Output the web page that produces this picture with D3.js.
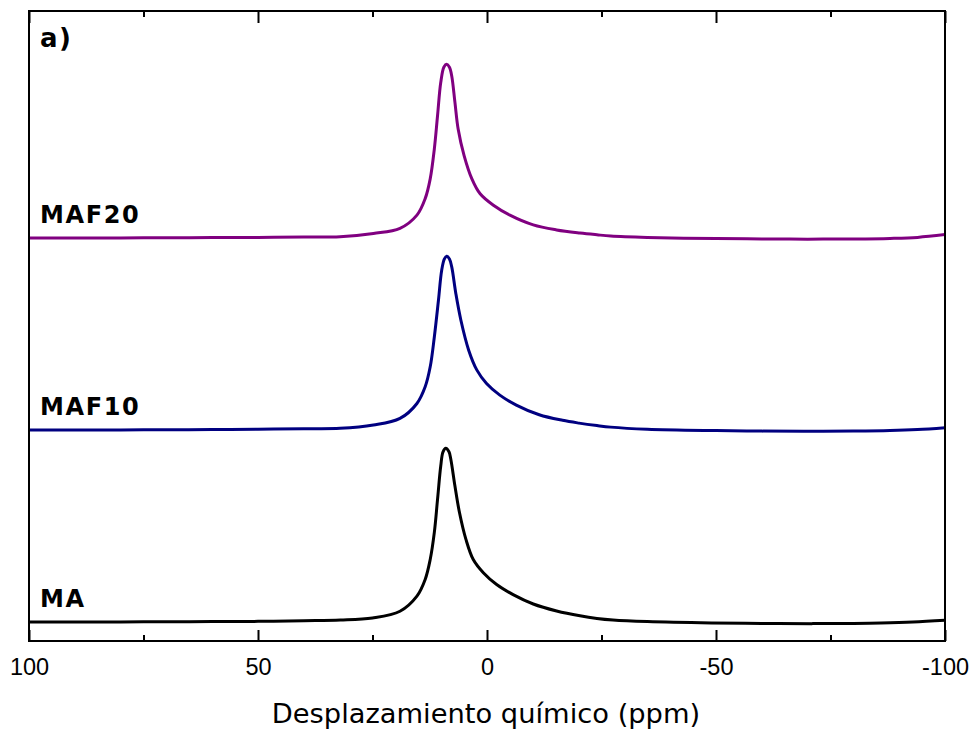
<!DOCTYPE html>
<html>
<head>
<meta charset="utf-8">
<script src="https://cdn.jsdelivr.net/npm/d3@7/dist/d3.min.js"></script>
<style>
  html, body { margin: 0; padding: 0; background: #fff; }
  svg { display: block; }
</style>
</head>
<body>
<script>
// ---------- DATA ----------
const seriesNames = ["MA", "MAF10", "MAF20"];
const seriesColors = ["#000000", "#000080", "#800080"];
const seriesOffsets = [0, 1.105, 2.21];

const maPpm = [100, 90, 80, 70, 60, 50, 40, 32, 25, 19, 15.3, 13.5, 12.4, 11.5, 10.8, 10.1, 9.6, 9.0, 8.3, 7.9, 7.0, 6.0, 4.6, 3.0, 0.8, -2.1, -5.7, -10.1, -15.2, -20.3, -24, -27.5, -35, -49, -60, -71, -80, -86, -93, -100];
const maInt = [0, 0, 0.001, 0.002, 0.003, 0.004, 0.008, 0.012, 0.024, 0.062, 0.149, 0.245, 0.36, 0.516, 0.706, 0.898, 0.98, 1.0, 0.98, 0.937, 0.783, 0.629, 0.476, 0.36, 0.284, 0.216, 0.158, 0.104, 0.064, 0.036, 0.021, 0.012, 0.003, -0.005, -0.008, -0.009, -0.008, -0.005, 0.001, 0.011];

const maf10Ppm = [100, 90, 80, 70, 60, 50, 40, 32.1, 24.8, 19.0, 15.3, 13.5, 12.4, 11.5, 10.6, 9.9, 9.3, 8.8, 8.2, 7.7, 6.8, 5.7, 4.0, 2.2, 0.1, -2.8, -6.4, -11.4, -16.5, -20.1, -24, -27, -35, -50, -60, -70, -80, -88, -94, -100];
const maf10Int = [0, 0, 0.001, 0.002, 0.003, 0.005, 0.008, 0.01, 0.029, 0.067, 0.153, 0.249, 0.364, 0.536, 0.747, 0.919, 0.985, 1.0, 0.985, 0.939, 0.785, 0.632, 0.46, 0.345, 0.268, 0.201, 0.144, 0.088, 0.056, 0.04, 0.026, 0.017, 0.005, -0.003, -0.006, -0.007, -0.006, -0.003, 0.003, 0.014];

const maf20Ppm = [100, 90, 80, 70, 60, 50, 40, 32.1, 24.8, 19.0, 15.3, 13.5, 12.4, 11.5, 10.8, 10.1, 9.4, 8.8, 8.2, 7.7, 7.0, 6.3, 5.0, 3.3, 1.5, -1.4, -5.0, -10.1, -15.2, -20.3, -24, -27, -35, -50, -60, -70, -80, -88, -94, -100];
const maf20Int = [0, 0, 0.001, 0.002, 0.003, 0.004, 0.006, 0.008, 0.027, 0.056, 0.132, 0.227, 0.341, 0.513, 0.704, 0.895, 0.985, 1.0, 0.983, 0.933, 0.781, 0.628, 0.475, 0.341, 0.255, 0.189, 0.132, 0.076, 0.047, 0.029, 0.019, 0.012, 0.004, -0.003, -0.005, -0.006, -0.005, -0.002, 0.004, 0.02];

const majorTicks = [100, 50, 0, -50, -100];
const minorTicks = [75, 25, -25, -75];
const tickLabels = ["100", "50", "0", "-50", "-100"];
const xTitle = "Desplazamiento químico (ppm)";
const panelLabel = "a)";

// ---------- LAYOUT ----------
const W = 972, H = 730;
const pL = 29, pR = 945, pT = 11, pB = 641;

const svg = d3.select("body").append("svg").attr("width", W).attr("height", H);

const x = d3.scaleLinear().domain([100, -100]).range([pL, pR]);
const y = d3.scaleLinear().domain([-0.109, 3.517]).range([pB, pT]);

const data = [
  { ppm: maPpm, val: maInt },
  { ppm: maf10Ppm, val: maf10Int },
  { ppm: maf20Ppm, val: maf20Int }
];

const line = d3.line().x(d => x(d[0])).y(d => y(d[1])).curve(d3.curveCatmullRom.alpha(0.5));

svg.append("clipPath").attr("id", "clip")
  .append("rect").attr("x", pL).attr("y", pT).attr("width", pR - pL).attr("height", pB - pT);

const g = svg.append("g").attr("clip-path", "url(#clip)");
data.forEach((s, i) => {
  const pts = s.ppm.map((p, k) => [p, s.val[k] + seriesOffsets[i]]);
  g.append("path")
    .attr("d", line(pts))
    .attr("fill", "none")
    .attr("stroke", seriesColors[i])
    .attr("stroke-width", 3)
    .attr("stroke-linejoin", "round");
});

// Bottom axis (ticks inward)
const bottomAxis = d3.axisBottom(x).tickValues(majorTicks).tickSize(-11).tickPadding(17)
  .tickFormat((d, i) => tickLabels[i]);
const gb = svg.append("g").attr("transform", `translate(0,${pB})`).call(bottomAxis);
gb.select(".domain").remove();
gb.selectAll(".tick line").attr("stroke", "#000").attr("stroke-width", 2);
gb.selectAll(".tick text").attr("font-family", "'Liberation Sans', Arial, sans-serif").attr("font-size", 23.5).attr("fill", "#000");
const gbm = svg.append("g").attr("transform", `translate(0,${pB})`)
  .call(d3.axisBottom(x).tickValues(minorTicks).tickSize(-6).tickFormat(""));
gbm.select(".domain").remove();
gbm.selectAll(".tick line").attr("stroke", "#000").attr("stroke-width", 2);

// Top axis (ticks inward)
const gt = svg.append("g").attr("transform", `translate(0,${pT})`)
  .call(d3.axisTop(x).tickValues(majorTicks).tickSize(-12).tickFormat(""));
gt.select(".domain").remove();
gt.selectAll(".tick line").attr("stroke", "#000").attr("stroke-width", 2);
const gtm = svg.append("g").attr("transform", `translate(0,${pT})`)
  .call(d3.axisTop(x).tickValues(minorTicks).tickSize(-6).tickFormat(""));
gtm.select(".domain").remove();
gtm.selectAll(".tick line").attr("stroke", "#000").attr("stroke-width", 2);

// Frame
svg.append("rect").attr("x", pL).attr("y", pT).attr("width", pR - pL).attr("height", pB - pT)
  .attr("fill", "none").attr("stroke", "#000").attr("stroke-width", 2);

// Axis title
svg.append("text").attr("x", 486).attr("y", 723)
  .attr("text-anchor", "middle")
  .attr("font-family", "'DejaVu Sans', Verdana, sans-serif").attr("font-size", 27.3).attr("fill", "#000")
  .text(xTitle);

// Panel label
svg.append("text").attr("x", 40).attr("y", 47)
  .attr("font-family", "'DejaVu Sans', Verdana, sans-serif").attr("font-weight", "bold").attr("font-size", 26)
  .attr("letter-spacing", 1.5)
  .text(panelLabel);

// Series labels
seriesNames.forEach((n, i) => {
  svg.append("text").attr("x", 40).attr("y", y(seriesOffsets[i]) - 15)
    .attr("font-family", "'DejaVu Sans', Verdana, sans-serif").attr("font-weight", "bold").attr("font-size", 24)
    .attr("letter-spacing", 1.6)
    .attr("fill", "#000")
    .text(n);
});
</script>
</body>
</html>
